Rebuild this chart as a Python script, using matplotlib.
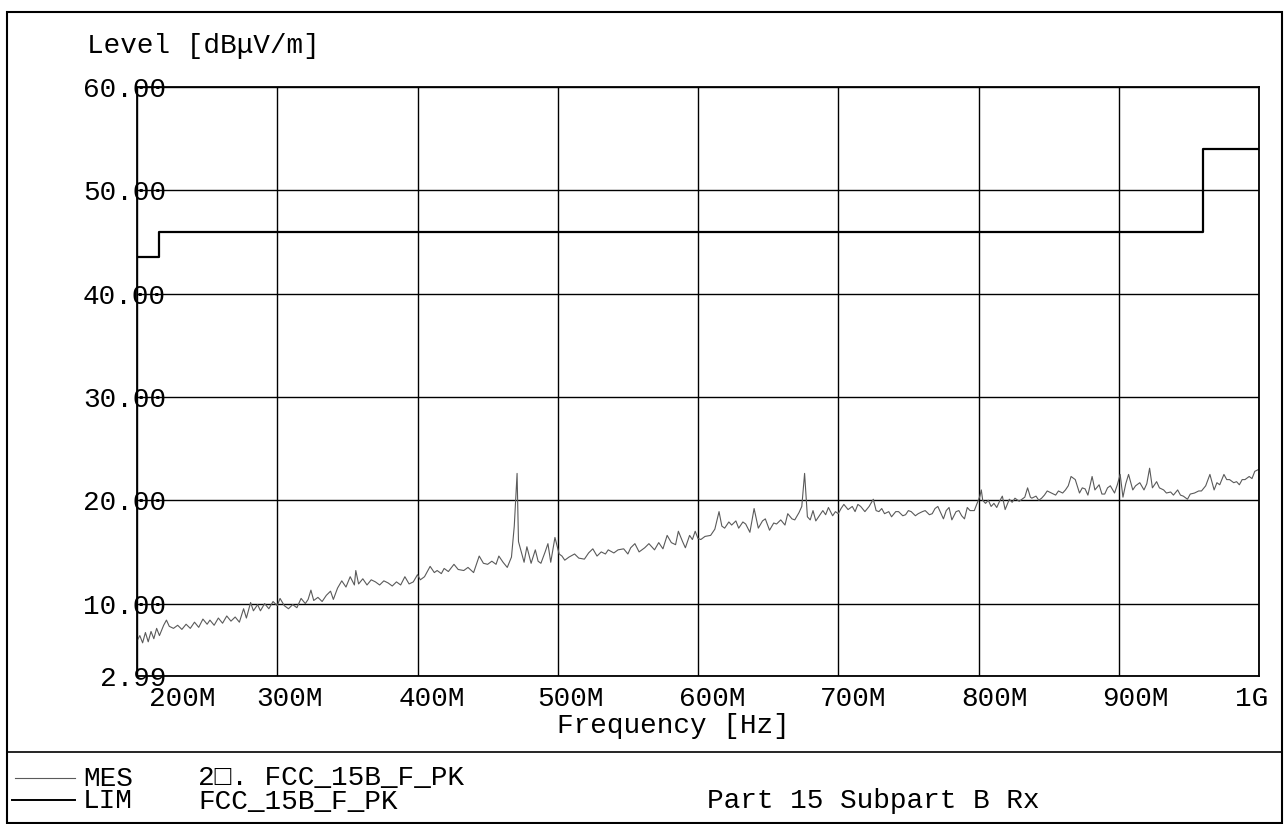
import matplotlib
matplotlib.use("Agg")
import matplotlib.pyplot as plt
from matplotlib.transforms import ScaledTranslation
from matplotlib.lines import Line2D
from matplotlib.patches import Rectangle

# ---------------- data ----------------
freq_mhz = [200, 202, 204, 206, 208, 210, 212, 214, 216, 219, 221, 223, 226, 229, 232, 235, 238, 241, 244, 247,
            250, 252, 255, 258, 261, 264, 267, 270, 273, 276, 278, 281, 283, 286, 288, 291, 294, 297, 300, 302,
            305, 308, 311, 314, 317, 320, 322, 324, 326, 329, 332, 335, 338, 340, 343, 346, 349, 352, 355, 356,
            358, 361, 364, 367, 370, 373, 376, 379, 382, 385, 388, 391, 394, 397, 400, 402, 405, 409, 412, 414,
            417, 419, 422, 426, 429, 433, 436, 440, 444, 447, 450, 453, 456, 458, 461, 464, 467, 469, 471, 472,
            473, 476, 478, 481, 484, 486, 488, 491, 493, 495, 498, 501, 503, 505, 508, 512, 515, 519, 522, 525,
            528, 531, 534, 536, 540, 543, 547, 550, 552, 555, 558, 562, 565, 569, 572, 575, 578, 581, 584, 586,
            589, 591, 594, 596, 598, 600, 602, 605, 609, 612, 615, 617, 619, 622, 624, 627, 629, 632, 634, 637,
            640, 643, 646, 648, 651, 654, 656, 659, 662, 664, 667, 669, 672, 674, 676, 678, 680, 682, 684, 687,
            689, 691, 693, 696, 698, 700, 702, 704, 707, 710, 712, 714, 716, 719, 722, 725, 727, 729, 731, 733,
            736, 738, 741, 743, 746, 748, 750, 752, 755, 757, 760, 762, 765, 767, 769, 771, 773, 775, 777, 779,
            781, 784, 786, 788, 790, 792, 794, 797, 799, 801, 802, 803, 805, 807, 809, 811, 813, 815, 817, 819,
            822, 824, 826, 829, 831, 833, 835, 837, 838, 841, 843, 845, 847, 849, 852, 855, 857, 860, 862, 864,
            866, 869, 872, 874, 876, 878, 881, 883, 886, 888, 890, 892, 894, 897, 899, 901, 903, 905, 907, 910,
            912, 915, 918, 920, 922, 924, 927, 929, 932, 934, 937, 939, 942, 944, 946, 949, 951, 954, 957, 959,
            962, 965, 968, 970, 972, 975, 977, 979, 982, 984, 986, 988, 990, 993, 995, 997, 1000]

level_db = [6.4, 6.9, 6.2, 7.2, 6.3, 7.3, 6.6, 7.6, 6.9, 7.9, 8.4, 7.8, 7.6, 7.9, 7.5, 8.0, 7.6, 8.2, 7.7, 8.5,
            8.0, 8.4, 7.9, 8.6, 8.1, 8.8, 8.3, 8.7, 8.2, 9.5, 8.6, 10.1, 9.3, 9.9, 9.3, 10.0, 9.5, 10.2, 9.8, 10.5,
            9.8, 9.5, 9.9, 9.6, 10.5, 10.0, 10.4, 11.3, 10.3, 10.6, 10.2, 10.8, 11.2, 10.4, 11.5, 12.2, 11.6, 12.6, 11.8, 13.2,
            11.9, 12.4, 11.8, 12.3, 12.1, 11.8, 12.2, 12.0, 11.7, 12.1, 11.8, 12.6, 11.9, 12.1, 12.8, 12.3, 12.6, 13.6, 13.0, 13.2,
            12.9, 13.4, 13.1, 13.8, 13.3, 13.2, 13.5, 13.0, 14.6, 13.9, 13.8, 14.1, 13.8, 14.6, 14.0, 13.5, 14.5, 17.5, 22.6, 16.0,
            15.5, 14.0, 15.5, 13.9, 15.2, 14.1, 13.9, 15.0, 15.8, 14.0, 16.4, 14.8, 14.6, 14.2, 14.5, 14.8, 14.4, 14.3, 14.9, 15.3,
            14.6, 15.0, 14.8, 15.2, 14.9, 15.2, 15.3, 14.8, 15.4, 15.8, 15.0, 15.4, 15.8, 15.2, 15.9, 15.3, 16.6, 15.9, 15.7, 17.0,
            16.0, 15.4, 16.6, 16.2, 17.0, 16.3, 16.2, 16.5, 16.6, 17.2, 18.9, 17.5, 17.3, 17.9, 17.6, 18.0, 17.3, 17.9, 17.7, 16.9,
            19.2, 17.3, 18.0, 18.2, 17.1, 17.8, 17.7, 18.1, 17.6, 18.7, 18.2, 18.1, 18.8, 19.4, 22.6, 18.4, 18.1, 19.0, 18.0, 18.6,
            19.0, 18.6, 19.3, 18.5, 18.9, 18.7, 19.2, 19.6, 19.1, 19.4, 18.9, 19.6, 19.4, 18.9, 19.4, 20.1, 19.0, 18.9, 19.2, 18.7,
            18.9, 18.4, 18.9, 18.9, 18.5, 18.6, 19.0, 18.9, 18.5, 18.7, 18.9, 19.0, 18.6, 18.7, 19.2, 19.4, 18.8, 18.2, 19.0, 19.3,
            18.1, 18.9, 19.0, 18.5, 18.2, 19.3, 19.0, 19.0, 19.7, 20.4, 21.0, 20.0, 19.7, 20.0, 19.4, 19.7, 19.3, 19.9, 20.4, 19.1,
            20.1, 19.8, 20.2, 19.9, 20.1, 20.3, 21.2, 20.3, 20.2, 20.4, 20.0, 20.2, 20.5, 20.9, 20.7, 20.5, 20.9, 20.7, 21.0, 21.4,
            22.3, 22.0, 20.7, 21.2, 21.1, 20.5, 22.3, 21.0, 21.5, 20.6, 20.6, 21.2, 21.4, 20.7, 21.5, 22.5, 20.3, 21.6, 22.5, 21.0,
            21.4, 21.7, 21.0, 21.6, 23.1, 21.2, 21.8, 21.2, 21.0, 20.7, 20.8, 20.5, 21.0, 20.5, 20.4, 20.1, 20.6, 20.7, 20.9, 20.9,
            21.4, 22.5, 21.0, 21.7, 21.5, 22.5, 22.0, 22.0, 21.7, 21.8, 21.5, 22.0, 22.0, 22.3, 22.1, 22.8, 23.0]

limit_freq_mhz = [200, 216, 216, 960, 960, 1000]
limit_db = [43.5, 43.5, 46.0, 46.0, 54.0, 54.0]

x_ticks = [200, 300, 400, 500, 600, 700, 800, 900, 1000]
x_tick_labels = ["200M", "300M", "400M", "500M", "600M", "700M", "800M", "900M", "1G"]
y_ticks = [2.99, 10, 20, 30, 40, 50, 60]
y_tick_labels = ["2.99", "10.00", "20.00", "30.00", "40.00", "50.00", "60.00"]

legend_names = ["MES", "LIM"]
legend_descr = ["2\u25a1. FCC_15B_F_PK", "FCC_15B_F_PK"]
footer_note = "Part 15 Subpart B Rx"

# ---------------- style ----------------
plt.rcParams["font.family"] = ["Liberation Mono", "DejaVu Sans Mono", "DejaVu Sans"]
FS = 20

W, H = 1284, 824
fig = plt.figure(figsize=(W / 100, H / 100), dpi=100)


def fx(px):
    return px / W


def fy(py):
    return 1 - py / H


ax = fig.add_axes([fx(137), fy(676), (1259 - 137) / W, (676 - 87) / H])
mes_line, = ax.plot(freq_mhz, level_db, color="#5a5a5a", lw=0.8, label="MES")
lim_line, = ax.plot(limit_freq_mhz, limit_db, color="black", lw=1.6, label="LIM")
ax.set_xlim(200, 1000)
ax.set_ylim(2.99, 60)
ax.set_xticks(x_ticks, x_tick_labels)
ax.set_yticks(y_ticks, y_tick_labels)
ax.grid(True, color="black", lw=1.0)
ax.set_axisbelow(True)
for s in ax.spines.values():
    s.set_linewidth(1.3)
ax.tick_params(axis="both", length=0, labelsize=FS)
ax.tick_params(axis="y", pad=-21)
ax.tick_params(axis="x", pad=7)

# per-label horizontal offsets (pixels)
x_offsets = [45, 12, 14, 13, 14, 15, 16, 17, -7]
for lab, off in zip(ax.get_xticklabels(), x_offsets):
    lab.set_transform(lab.get_transform() + ScaledTranslation(off / 100, 0, fig.dpi_scale_trans))

ax.set_xlabel("Frequency [Hz]", fontsize=FS)
ax.xaxis.set_label_coords((673 - 137) / 1122, -(726 - 676) / 589)
ax.xaxis.label.set_va("center")
ax.set_ylabel("Level [dB\u03bcV/m]", fontsize=FS, rotation=0, ha="left", va="center")
ax.yaxis.set_label_coords((87 - 137) / 1122, (676 - 46) / 589)

# outer frame and separator
fig.add_artist(Rectangle((fx(7), fy(823)), (1282 - 7) / W, (823 - 12) / H, transform=fig.transFigure,
                         fill=False, edgecolor="black", lw=1.5))
fig.add_artist(Line2D([fx(7), fx(1282)], [fy(752), fy(752)], transform=fig.transFigure, color="black", lw=1.2))

# legend block (two rows, 23 px apart)
fig.add_artist(Line2D([fx(15), fx(75)], [fy(778), fy(778)], transform=fig.transFigure, color="#5a5a5a", lw=0.8))
fig.add_artist(Line2D([fx(12), fx(75)], [fy(800), fy(800)], transform=fig.transFigure, color="black", lw=1.4))
fig.text(fx(83), fy(790), "\n".join(legend_names), fontsize=FS, ha="left", va="center", linespacing=0.85)
fig.text(fx(198), fy(790), "\n".join(legend_descr), fontsize=FS, ha="left", va="center", linespacing=0.85)
fig.text(fx(707), fy(801), footer_note, fontsize=FS, ha="left", va="center")

fig.savefig("out.png", dpi=100)
